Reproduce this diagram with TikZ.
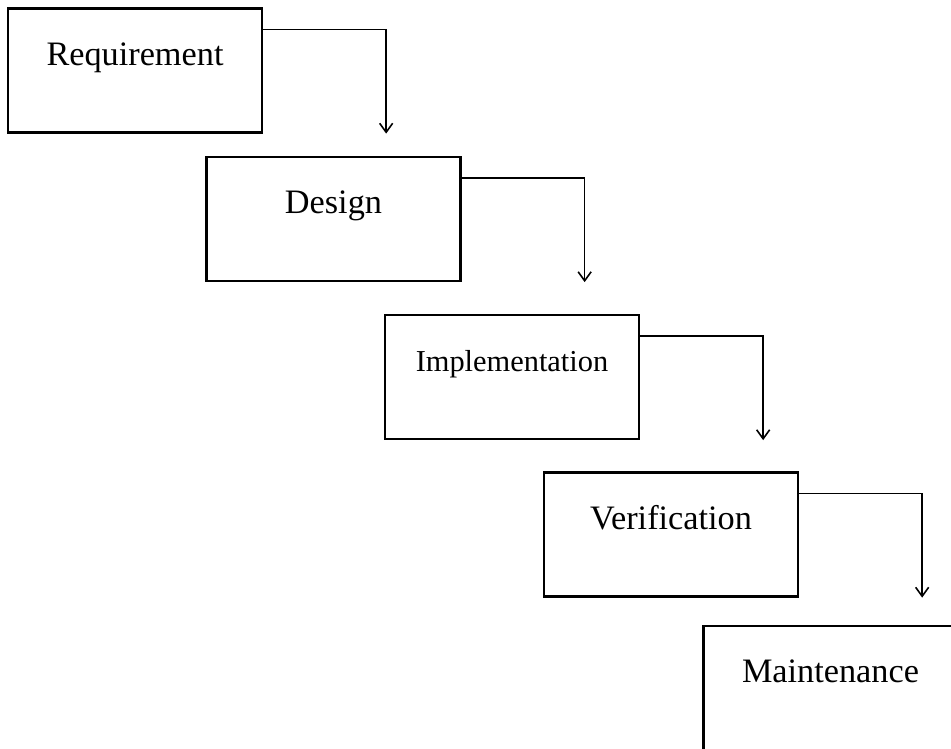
\documentclass[tikz,border=0pt]{standalone}
\usepackage{fontspec}
\setmainfont{Liberation Serif}
\usetikzlibrary{arrows.meta, positioning}
\tikzstyle{block}=[draw,line width=1.3pt,fill=white,rectangle,minimum width=5.08cm,minimum height=2.48cm,inner sep=0pt,text height=1.14cm,text depth=1.34cm]
\tikzstyle{every node}=[font=\fontsize{19.5}{22}\selectfont]
\tikzstyle{flow}=[line width=0.9pt,-{Straight Barb[length=1.8mm,width=2.6mm]}]

\begin{document}
\begin{tikzpicture}
    \useasboundingbox (0,0) rectangle (19.02,14.98);
    \node[block] (req) at (2.70,13.57) {Requirement};
    \node[block] (des) at (6.67,10.60) {Design};
    \node[block] (imp) at (10.24,7.44) {\fontsize{17.3}{20}\selectfont Implementation};
    \node[block] (ver) at (13.42,4.29) {Verification};
    \node[block] (mnt) at (16.61,1.22) {Maintenance};
    \coordinate (e1) at ([xshift=2.46cm]req.south east);
    \coordinate (e2) at ([xshift=2.46cm]des.south east);
    \coordinate (e3) at ([xshift=2.46cm]imp.south east);
    \coordinate (e4) at ([xshift=2.46cm]ver.south east);
    \draw[flow] ([yshift=-0.44cm]req.north east) -| (e1);
    \draw[flow] ([yshift=-0.44cm]des.north east) -| (e2);
    \draw[flow] ([yshift=-0.44cm]imp.north east) -| (e3);
    \draw[flow] ([yshift=-0.44cm]ver.north east) -| (e4);
\end{tikzpicture}
\end{document}
